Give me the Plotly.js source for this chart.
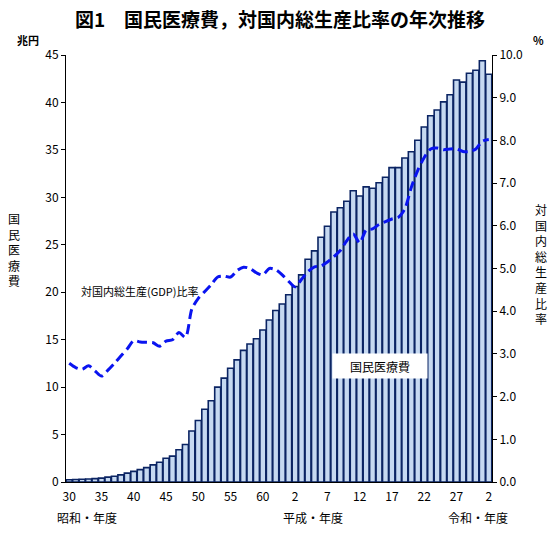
<!DOCTYPE html>
<html>
<head>
<meta charset="utf-8">
<script src="https://cdn.plot.ly/plotly-3.0.1.min.js"></script>
<style>
  body { margin: 0; background: #fff; }
  #myDiv { width: 560px; height: 543px; }
</style>
</head>
<body>
<div id="myDiv"></div>
<script>
// 昭和30年度(1955) 〜 令和2年度(2020)
var years = [];
for (var y = 1955; y <= 2020; y++) years.push(y);

// 国民医療費（兆円）
var cost = [0.24, 0.26, 0.29, 0.32, 0.36, 0.41, 0.51, 0.61, 0.75, 0.94,
  1.12, 1.30, 1.51, 1.80, 2.08, 2.50, 2.73, 3.40, 3.95, 5.38,
  6.48, 7.67, 8.57, 10.00, 10.95, 11.98, 12.87, 13.87, 14.54, 15.09,
  16.02, 17.07, 18.08, 18.76, 19.73, 20.61, 21.83, 23.48, 24.36, 25.79,
  26.96, 28.45, 28.91, 29.58, 30.70, 30.14, 31.10, 30.95, 31.54, 32.11,
  33.13, 33.13, 34.14, 34.81, 36.01, 37.42, 38.59, 39.21, 40.06, 40.81,
  42.36, 42.14, 43.07, 43.39, 44.39, 42.97];

// 対国内総生産比率（%）
var ratio = [2.78, 2.68, 2.64, 2.72, 2.60, 2.48, 2.62, 2.78, 2.95, 3.12,
  3.31, 3.28, 3.27, 3.26, 3.18, 3.30, 3.33, 3.50, 3.39, 4.05,
  4.30, 4.46, 4.62, 4.80, 4.82, 4.80, 4.95, 5.03, 5.00, 4.90,
  4.85, 5.00, 4.97, 4.85, 4.70, 4.57, 4.75, 4.93, 5.04, 5.06,
  5.15, 5.28, 5.42, 5.65, 5.81, 5.60, 5.90, 5.93, 6.03, 6.10,
  6.16, 6.20, 6.40, 6.90, 7.30, 7.60, 7.80, 7.82, 7.78, 7.80,
  7.80, 7.74, 7.74, 7.80, 7.98, 8.02];

var tickPos = [0, 5, 10, 15, 20, 25, 30, 35, 40, 45, 50, 55, 60, 65];
var tickText = ['30', '35', '40', '45', '50', '55', '60', '2', '7', '12', '17', '22', '27', '2'];

var idx = years.map(function (v, i) { return i; });

var font = 'Noto Sans CJK JP, sans-serif';

var trace1 = {
  type: 'bar',
  x: idx,
  y: cost,
  name: '国民医療費',
  marker: {
    color: '#c6d9f1',
    line: { color: '#0b2463', width: 1.6 }
  },
  hoverinfo: 'y'
};

var trace2 = {
  type: 'scatter',
  mode: 'lines',
  x: idx,
  y: ratio,
  yaxis: 'y2',
  name: '対国内総生産比率',
  line: { color: '#0a14f0', width: 3, dash: '10px,5px', shape: 'spline', smoothing: 0.8 }
};

var layout = {
  width: 560,
  height: 543,
  margin: { l: 66, r: 68, t: 55, b: 61 },
  paper_bgcolor: '#fff',
  plot_bgcolor: '#fff',
  showlegend: false,
  bargap: 0.08,
  font: { family: font, size: 12, color: '#000' },
  title: {
    text: '<b>図1　国民医療費，対国内総生産比率の年次推移</b>',
    font: { family: font, size: 19, color: '#000' },
    x: 0.5, xanchor: 'center', y: 0.962, yanchor: 'middle'
  },
  xaxis: {
    range: [-0.5, 65.5],
    tickmode: 'array',
    tickvals: tickPos,
    ticktext: tickText,
    ticks: '',
    ticklabelstandoff: 4,
    showgrid: false,
    zeroline: false,
    showline: true,
    linecolor: '#000',
    linewidth: 1,
    tickfont: { family: font, size: 12 }
  },
  yaxis: {
    range: [0, 45],
    dtick: 5,
    ticks: 'outside',
    ticklen: 4,
    tickcolor: '#000',
    showgrid: false,
    zeroline: false,
    showline: true,
    linecolor: '#000',
    linewidth: 1,
    tickfont: { family: font, size: 12 }
  },
  yaxis2: {
    range: [0, 10],
    dtick: 1,
    tickformat: '.1f',
    overlaying: 'y',
    side: 'right',
    ticks: 'outside',
    ticklen: 4,
    tickcolor: '#000',
    showgrid: false,
    zeroline: false,
    showline: true,
    linecolor: '#000',
    linewidth: 1,
    tickfont: { family: font, size: 12 }
  },
  annotations: [
    { text: '<b>兆円</b>', xref: 'paper', yref: 'paper', x: -0.09, y: 1.035, xanchor: 'center', yanchor: 'middle', showarrow: false, font: { size: 11 } },
    { text: '<b>%</b>', xref: 'paper', yref: 'paper', x: 1.11, y: 1.035, xanchor: 'center', yanchor: 'middle', showarrow: false, font: { size: 11 } },
    { text: '国<br>民<br>医<br>療<br>費', xref: 'paper', yref: 'paper', x: -0.122, y: 0.545, xanchor: 'center', yanchor: 'middle', showarrow: false, font: { size: 12 } },
    { text: '対<br>国<br>内<br>総<br>生<br>産<br>比<br>率', xref: 'paper', yref: 'paper', x: 1.115, y: 0.51, xanchor: 'center', yanchor: 'middle', showarrow: false, font: { size: 12 } },
    { text: '昭和・年度', xref: 'paper', yref: 'paper', x: 0.05, y: -0.082, xanchor: 'center', yanchor: 'middle', showarrow: false, font: { size: 12 } },
    { text: '平成・年度', xref: 'paper', yref: 'paper', x: 0.58, y: -0.082, xanchor: 'center', yanchor: 'middle', showarrow: false, font: { size: 12 } },
    { text: '令和・年度', xref: 'paper', yref: 'paper', x: 0.967, y: -0.082, xanchor: 'center', yanchor: 'middle', showarrow: false, font: { size: 12 } },
    { text: '対国内総生産(GDP)比率', xref: 'paper', yref: 'paper', x: 0.03, y: 0.447, xanchor: 'left', yanchor: 'middle', showarrow: false, font: { size: 11 } },
    { text: '国民医療費', xref: 'paper', yref: 'paper', x: 0.737, y: 0.272, xanchor: 'center', yanchor: 'middle', showarrow: false, font: { size: 12 }, bgcolor: '#fff', borderpad: 4, width: 86, height: 16 }
  ]
};

var data = [trace1, trace2];

Plotly.newPlot('myDiv', data, layout, { displayModeBar: false, staticPlot: true });
</script>
</body>
</html>
